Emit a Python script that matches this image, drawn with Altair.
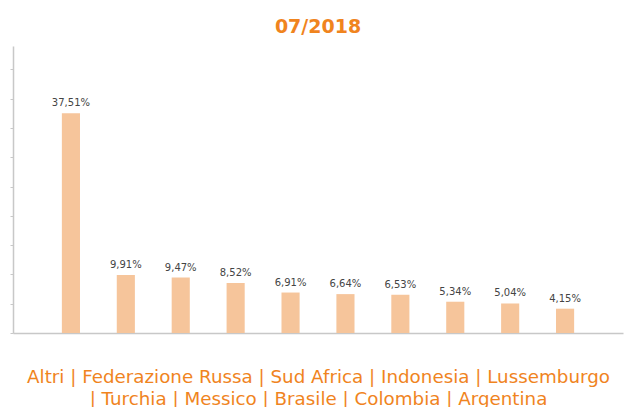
import altair as alt
import pandas as pd

categories = ["Altri", "Federazione Russa", "Sud Africa", "Indonesia", "Lussemburgo",
              "Turchia", "Messico", "Brasile", "Colombia", "Argentina"]
values = [37.51, 9.91, 9.47, 8.52, 6.91, 6.64, 6.53, 5.34, 5.04, 4.15]
y_ticks = [0, 5, 10, 15, 20, 25, 30, 35, 40, 45]

labels = [f"{v:.2f}".replace(".", ",") + "%" for v in values]
df = pd.DataFrame({"cat": categories, "val": values, "lab": labels})

line1 = " | ".join(categories[:5])
line2 = "| " + " | ".join(categories[5:])

ORANGE = "#F0841E"
GRAY = "#C8C8C8"

x_enc = alt.X("cat:N", sort=None,
              scale=alt.Scale(paddingInner=0.67, paddingOuter=0.89),
              axis=alt.Axis(labels=False, ticks=False, domain=True, domainColor=GRAY,
                            domainWidth=1.5,
                            title=[line1, line2], titleColor=ORANGE, titleFontSize=18.3,
                            titleFont="DejaVu Sans", titleFontWeight="normal",
                            titleLineHeight=22, titlePadding=35))
y_enc = alt.Y("val:Q", scale=alt.Scale(domain=[0, 49], nice=False),
              axis=alt.Axis(values=y_ticks, tickCount=12, labels=False, labelOverlap=False,
                            grid=False, title=None,
                            domainColor=GRAY, tickColor=GRAY, tickSize=3,
                            domainWidth=1.5))

base = alt.Chart(df)
bars = base.mark_bar(color="#F6C59B").encode(x=x_enc, y=y_enc)
text = base.mark_text(baseline="bottom", dy=-5, fontSize=10, font="DejaVu Sans",
                      color="#444444").encode(x=alt.X("cat:N", sort=None), y="val:Q", text="lab:N")

chart = (bars + text).properties(
    width=610, height=287,
    title=alt.TitleParams("07/2018", fontSize=19, fontWeight="bold", color=ORANGE,
                          font="DejaVu Sans", anchor="middle", offset=9),
    autosize=alt.AutoSizeParams(type="none"),
    padding={"left": 13, "top": 46, "right": 1, "bottom": 74},
).configure_view(stroke=None)

chart.save("out.html", embed_options={"renderer": "svg", "actions": False})
